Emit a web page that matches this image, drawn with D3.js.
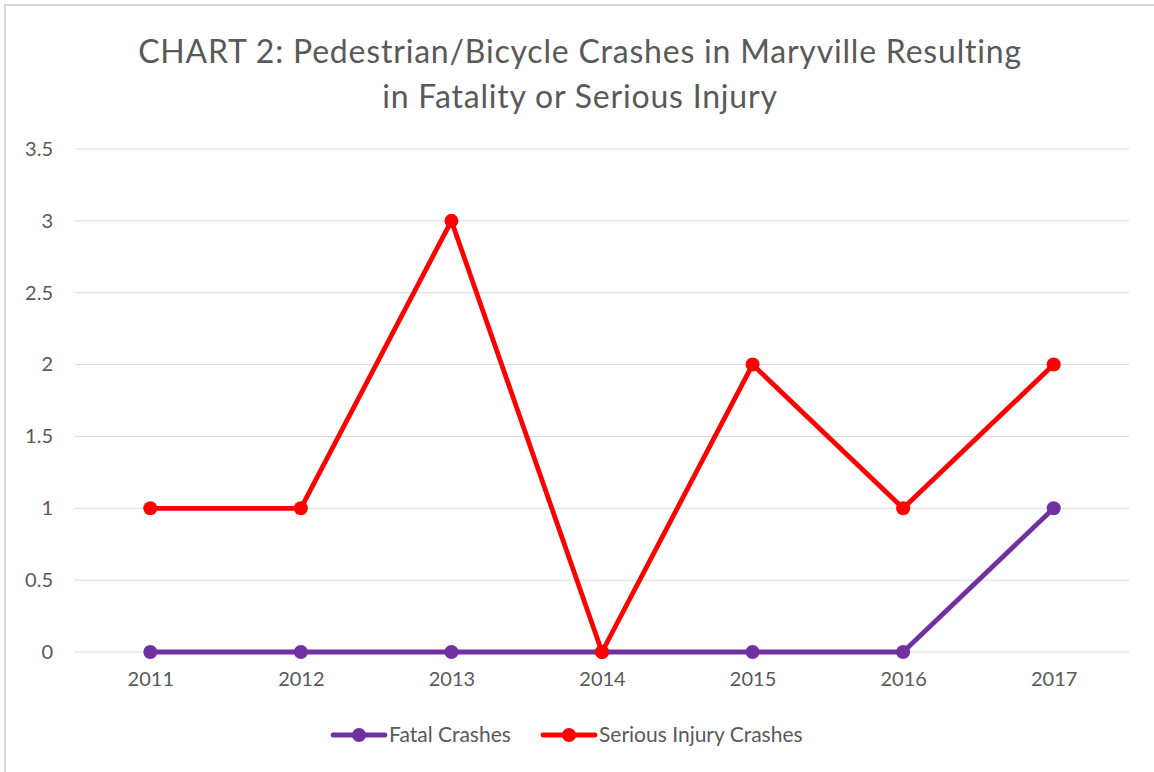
<!DOCTYPE html>
<html>
<head>
<meta charset="utf-8">
<script src="https://cdn.jsdelivr.net/npm/d3@7"></script>
<style>
  body { margin: 0; background: #fff; }
  svg text { font-family: Lato, "Open Sans", sans-serif; fill: #595959; }
</style>
</head>
<body>
<div id="chart"></div>
<script>
const years = ["2011", "2012", "2013", "2014", "2015", "2016", "2017"];
const fatalCrashes = [0, 0, 0, 0, 0, 0, 1];
const seriousInjuryCrashes = [1, 1, 3, 0, 2, 1, 2];
const yTicks = [0, 0.5, 1, 1.5, 2, 2.5, 3, 3.5];
const seriesNames = ["Fatal Crashes", "Serious Injury Crashes"];
const seriesColors = ["#7030a0", "#ff0000"];

const width = 1154, height = 772;
const margin = { top: 149, right: 25, bottom: 120, left: 75 };

const svg = d3.select("#chart").append("svg")
    .attr("width", width)
    .attr("height", height);

// chart border (right and bottom run off the picture)
svg.append("rect")
    .attr("x", 5).attr("y", 5)
    .attr("width", width + 10).attr("height", height + 10)
    .attr("fill", "none")
    .attr("stroke", "#d9d9d9")
    .attr("stroke-width", 2);

const x = d3.scalePoint()
    .domain(years)
    .range([margin.left, width - margin.right])
    .padding(0.5);

const y = d3.scaleLinear()
    .domain([0, 3.5])
    .range([652, margin.top]);

// title
const title = svg.append("text")
    .attr("text-anchor", "middle")
    .style("font-size", "32px")
    .style("letter-spacing", "0.8px");
title.append("tspan").attr("x", 580).attr("y", 63)
    .text("CHART 2: Pedestrian/Bicycle Crashes in Maryville Resulting");
title.append("tspan").attr("x", 580).attr("y", 108)
    .text("in Fatality or Serious Injury");

// gridlines
svg.append("g")
    .selectAll("line")
    .data(yTicks)
    .join("line")
    .attr("x1", margin.left)
    .attr("x2", width - margin.right)
    .attr("y1", d => y(d))
    .attr("y2", d => y(d))
    .attr("stroke", "#d9d9d9")
    .attr("stroke-width", 1);

// y axis labels
const yAxis = svg.append("g")
    .attr("transform", `translate(${margin.left},0)`)
    .call(d3.axisLeft(y).tickValues(yTicks).tickSize(0).tickPadding(22).tickFormat(d3.format("")));
yAxis.select(".domain").remove();
yAxis.selectAll("text").style("font-size", "20px").attr("fill", "#595959");

// x axis labels
const xAxis = svg.append("g")
    .attr("transform", `translate(0,${y(0)})`)
    .call(d3.axisBottom(x).tickSize(0).tickPadding(20));
xAxis.select(".domain").remove();
xAxis.selectAll("text").style("font-size", "20px").attr("fill", "#595959");

const line = d3.line()
    .x((d, i) => x(years[i]))
    .y(d => y(d));

const allSeries = [fatalCrashes, seriousInjuryCrashes];

allSeries.forEach((values, s) => {
    const g = svg.append("g");
    g.append("path")
        .datum(values)
        .attr("d", line)
        .attr("fill", "none")
        .attr("stroke", seriesColors[s])
        .attr("stroke-width", 4.8)
        .attr("stroke-linejoin", "round");
    g.selectAll("circle")
        .data(values)
        .join("circle")
        .attr("cx", (d, i) => x(years[i]))
        .attr("cy", d => y(d))
        .attr("r", 7)
        .attr("fill", seriesColors[s]);
});

// legend
const legendX = [333, 543];
const legend = svg.append("g")
    .selectAll("g")
    .data(seriesNames)
    .join("g")
    .attr("transform", (d, i) => `translate(${legendX[i]},735)`);
legend.append("line")
    .attr("x1", 0).attr("x2", 52)
    .attr("stroke", (d, i) => seriesColors[i])
    .attr("stroke-width", 4.8)
    .attr("stroke-linecap", "round");
legend.append("circle")
    .attr("cx", 26).attr("r", 7)
    .attr("fill", (d, i) => seriesColors[i]);
legend.append("text")
    .attr("x", 56).attr("dy", "0.35em")
    .style("font-size", "21px")
    .text(d => d);
</script>
</body>
</html>
